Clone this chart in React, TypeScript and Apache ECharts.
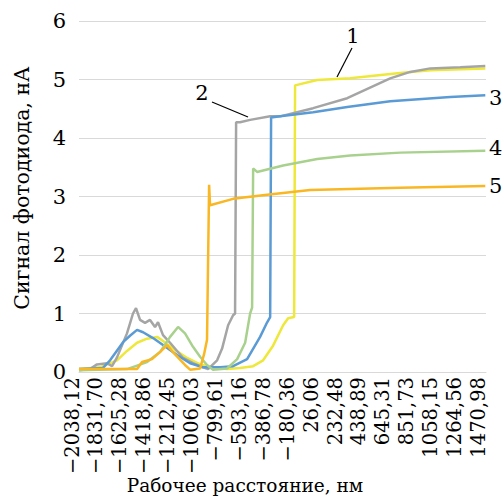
import React, { useEffect, useRef } from "react";
import * as echarts from "echarts";

const xTickValues = [
  -2038.12, -1831.7, -1625.28, -1418.86, -1212.45, -1006.03, -799.61, -593.16,
  -386.78, -180.36, 26.06, 232.48, 438.89, 645.31, 851.73, 1058.15, 1264.56, 1470.98,
];
const xTickLabels = [
  "−2038,12", "−1831,70", "−1625,28", "−1418,86", "−1212,45", "−1006,03", "−799,61", "−593,16",
  "−386,78", "−180,36", "26,06", "232,48", "438,89", "645,31", "851,73", "1058,15", "1264,56", "1470,98",
];

// [nm, nA]
const series1 = [
  [-2038, 0.05], [-1857, 0.08], [-1710, 0.2], [-1624, 0.36], [-1537, 0.5], [-1451, 0.57],
  [-1364, 0.6], [-1313, 0.53], [-1226, 0.4], [-1105, 0.24], [-993, 0.13], [-881, 0.08],
  [-760, 0.05], [-648, 0.07], [-535, 0.1], [-449, 0.2], [-363, 0.45], [-276, 0.8],
  [-233, 0.92], [-181, 0.94], [-173, 4.9], [18, 4.99], [303, 5.02], [588, 5.08],
  [734, 5.11], [994, 5.16], [1469, 5.19],
];
const series2 = [
  [-2038, 0.03], [-1943, 0.05], [-1883, 0.13], [-1796, 0.15], [-1753, 0.1], [-1710, 0.25],
  [-1624, 0.66], [-1572, 1.0], [-1546, 1.09], [-1511, 0.89], [-1468, 0.84], [-1425, 0.89],
  [-1382, 0.77], [-1356, 0.85], [-1313, 0.63], [-1252, 0.5], [-1140, 0.24], [-1054, 0.15],
  [-967, 0.08], [-924, 0.05], [-846, 0.2], [-803, 0.4], [-751, 0.8], [-708, 0.97],
  [-691, 1.0], [-682, 4.27], [-648, 4.27], [-561, 4.31], [-388, 4.37], [-302, 4.37],
  [-17, 4.51], [277, 4.68], [648, 5.02], [821, 5.13], [994, 5.19], [1253, 5.21], [1469, 5.23],
];
const series3 = [
  [-2038, 0.05], [-1831, 0.07], [-1770, 0.2], [-1658, 0.51], [-1598, 0.62], [-1537, 0.72],
  [-1485, 0.68], [-1399, 0.58], [-1313, 0.46], [-1192, 0.29], [-1079, 0.15], [-967, 0.08],
  [-820, 0.08], [-708, 0.1], [-587, 0.22], [-475, 0.6], [-414, 0.85], [-388, 0.94],
  [-380, 4.35], [-302, 4.37], [-17, 4.44], [277, 4.53], [648, 4.63], [1166, 4.7], [1469, 4.73],
];
const series4 = [
  [-2038, 0.03], [-1624, 0.05], [-1451, 0.17], [-1339, 0.34], [-1252, 0.6], [-1183, 0.77],
  [-1123, 0.66], [-1054, 0.43], [-993, 0.26], [-933, 0.12], [-881, 0.04], [-760, 0.06],
  [-673, 0.22], [-604, 0.5], [-561, 1.0], [-544, 1.1], [-535, 3.48], [-501, 3.42],
  [-276, 3.53], [18, 3.64], [303, 3.7], [734, 3.75], [1469, 3.78],
];
const series5 = [
  [-2038, 0.05], [-1537, 0.05], [-1494, 0.17], [-1408, 0.22], [-1339, 0.34], [-1278, 0.46],
  [-1209, 0.3], [-1123, 0.12], [-1079, 0.04], [-993, 0.06], [-959, 0.3], [-933, 0.55],
  [-915, 3.2], [-907, 2.85], [-708, 2.96], [-414, 3.03], [-43, 3.11], [734, 3.15], [1469, 3.18],
];

const seriesList = [
  { name: "1", data: series1, color: "#EEE83A" },
  { name: "2", data: series2, color: "#A5A5A5" },
  { name: "3", data: series3, color: "#5B9BD5" },
  { name: "4", data: series4, color: "#A9D18E" },
  { name: "5", data: series5, color: "#F9B723" },
];

const FONT = "DejaVu Serif";

export default function App() {
  const ref = useRef<HTMLDivElement>(null);
  useEffect(() => {
    if (!ref.current) return;
    const chart = echarts.init(ref.current, null, { renderer: "svg" });
    const labelFor = (v: number) => {
      for (let i = 0; i < xTickValues.length; i++) {
        if (Math.abs(xTickValues[i] - v) < 0.01) return xTickLabels[i];
      }
      return "";
    };
    chart.setOption({
      animation: false,
      backgroundColor: "#fff",
      textStyle: { fontFamily: FONT },
      grid: { left: 79, right: 16, top: 21, bottom: 124, containLabel: false, outerBoundsMode: "none" },
      xAxis: {
        type: "value",
        min: -2038.12,
        max: 1475,
        axisLabel: {
          customValues: xTickValues,
          rotate: 90,
          margin: 5,
          fontSize: 19.5,
          fontFamily: FONT,
          color: "#000",
          verticalAlign: "bottom",
          lineHeight: 14,
          formatter: (v: number) => labelFor(v),
        },
        axisTick: { show: false },
        splitLine: { show: false },
        axisLine: { show: true, lineStyle: { color: "#D9D9D9", width: 1 } },
      },
      yAxis: {
        type: "value",
        min: 0,
        max: 6,
        interval: 1,
        axisLabel: { fontSize: 21, fontFamily: FONT, color: "#000", margin: 13 },
        axisLine: { show: false },
        axisTick: { show: false },
        splitLine: { lineStyle: { color: "#D9D9D9", width: 1 } },
      },
      series: seriesList.map((s) => ({
        name: s.name,
        type: "line",
        data: s.data,
        showSymbol: false,
        symbol: "none",
        lineStyle: { width: 2.5, color: s.color },
        itemStyle: { color: s.color },
      })),
      graphic: [
        {
          type: "text", x: 22, y: 188, rotation: Math.PI / 2,
          style: { text: "Сигнал фотодиода, нА", fontSize: 20.5, fontFamily: FONT, fill: "#000", align: "center", verticalAlign: "middle" },
        },
        {
          type: "text", x: 245, y: 485,
          style: { text: "Рабочее расстояние, нм", fontSize: 18.5, fontFamily: FONT, fill: "#000", align: "center", verticalAlign: "middle" },
        },
        { type: "text", x: 353, y: 36, style: { text: "1", fontSize: 21, fontFamily: FONT, fill: "#000", align: "center", verticalAlign: "middle" } },
        { type: "line", shape: { x1: 352, y1: 48, x2: 337, y2: 77 }, style: { stroke: "#000", lineWidth: 1.2 } },
        { type: "text", x: 202, y: 93, style: { text: "2", fontSize: 21, fontFamily: FONT, fill: "#000", align: "center", verticalAlign: "middle" } },
        { type: "line", shape: { x1: 212, y1: 102, x2: 248, y2: 117 }, style: { stroke: "#000", lineWidth: 1.2 } },
        { type: "text", x: 489, y: 98, style: { text: "3", fontSize: 21, fontFamily: FONT, fill: "#000", align: "left", verticalAlign: "middle" } },
        { type: "text", x: 489, y: 148, style: { text: "4", fontSize: 21, fontFamily: FONT, fill: "#000", align: "left", verticalAlign: "middle" } },
        { type: "text", x: 489, y: 186, style: { text: "5", fontSize: 21, fontFamily: FONT, fill: "#000", align: "left", verticalAlign: "middle" } },
      ],
    });
    return () => chart.dispose();
  }, []);
  return <div ref={ref} style={{ width: 502, height: 496, position: "absolute", left: 0, top: 0 }} />;
}
